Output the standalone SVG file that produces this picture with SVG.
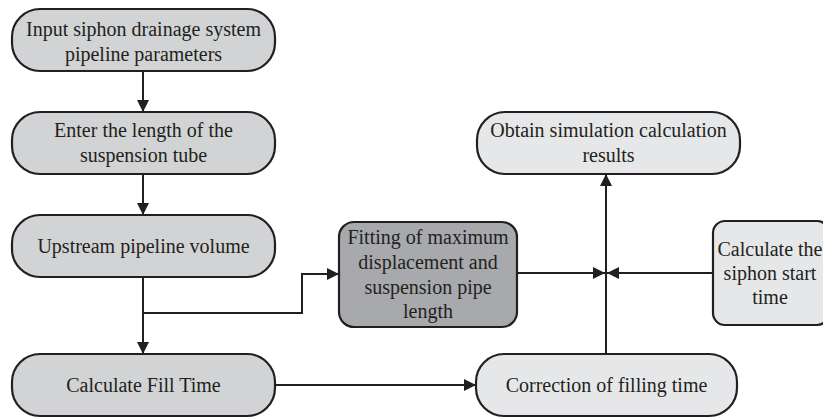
<svg xmlns="http://www.w3.org/2000/svg" width="823" height="419" viewBox="0 0 823 419">
<style>
.box{stroke:#231f20;stroke-width:2.2}
.g1{fill:#d1d3d4}
.g2{fill:#a7a9ac}
.g3{fill:#e6e7e8}
text{font-family:"Liberation Serif","Times New Roman",serif;font-size:20px;fill:#231f20;text-anchor:middle}
.ln{fill:none;stroke:#231f20;stroke-width:2}
</style>
<defs>
<marker id="ah" markerUnits="userSpaceOnUse" markerWidth="12" markerHeight="12" viewBox="0 0 12 12" refX="12" refY="6" orient="auto">
<path d="M0,0 L12,6 L0,12 z" fill="#231f20"/>
</marker>
</defs>
<g id="connectors">
<path class="ln" d="M143,71 V112" marker-end="url(#ah)"/>
<path class="ln" d="M143,174 V215" marker-end="url(#ah)"/>
<path class="ln" d="M143,277 V354" marker-end="url(#ah)"/>
<path class="ln" d="M143,313 H302 V274 H339" marker-end="url(#ah)"/>
<path class="ln" d="M275,385 H476" marker-end="url(#ah)"/>
<path class="ln" d="M606,354 V174" marker-end="url(#ah)"/>
<path class="ln" d="M517,273 H605" marker-end="url(#ah)"/>
<path class="ln" d="M713,273 H607" marker-end="url(#ah)"/>
</g>
<g id="input">
<rect class="box g1" x="12" y="9" width="263" height="62" rx="28"/>
<text x="143.5" y="36">Input siphon drainage system</text>
<text x="143.5" y="61">pipeline parameters</text>
</g>
<g id="enter">
<rect class="box g1" x="12" y="112" width="263" height="62" rx="28"/>
<text x="143.5" y="137">Enter the length of the</text>
<text x="143.5" y="162">suspension tube</text>
</g>
<g id="upstream">
<rect class="box g1" x="12" y="215" width="263" height="62" rx="28"/>
<text x="143.5" y="253">Upstream pipeline volume</text>
</g>
<g id="fill">
<rect class="box g1" x="12" y="354" width="263" height="62" rx="28"/>
<text x="143.5" y="392">Calculate Fill Time</text>
</g>
<g id="fitting">
<rect class="box g2" x="339" y="222" width="178" height="105" rx="15"/>
<text x="428" y="244">Fitting of maximum</text>
<text x="428" y="269">displacement and</text>
<text x="428" y="294">suspension pipe</text>
<text x="428" y="318">length</text>
</g>
<g id="obtain">
<rect class="box g3" x="477" y="112" width="263" height="62" rx="28"/>
<text x="608.5" y="137">Obtain simulation calculation</text>
<text x="608.5" y="162">results</text>
</g>
<g id="siphon">
<rect class="box g3" x="713" y="221" width="116" height="104" rx="12"/>
<text x="770" y="256">Calculate the</text>
<text x="770" y="280">siphon start</text>
<text x="770" y="304">time</text>
</g>
<g id="correction">
<rect class="box g3" x="476" y="354" width="261" height="62" rx="28"/>
<text x="606.5" y="392">Correction of filling time</text>
</g>
</svg>
